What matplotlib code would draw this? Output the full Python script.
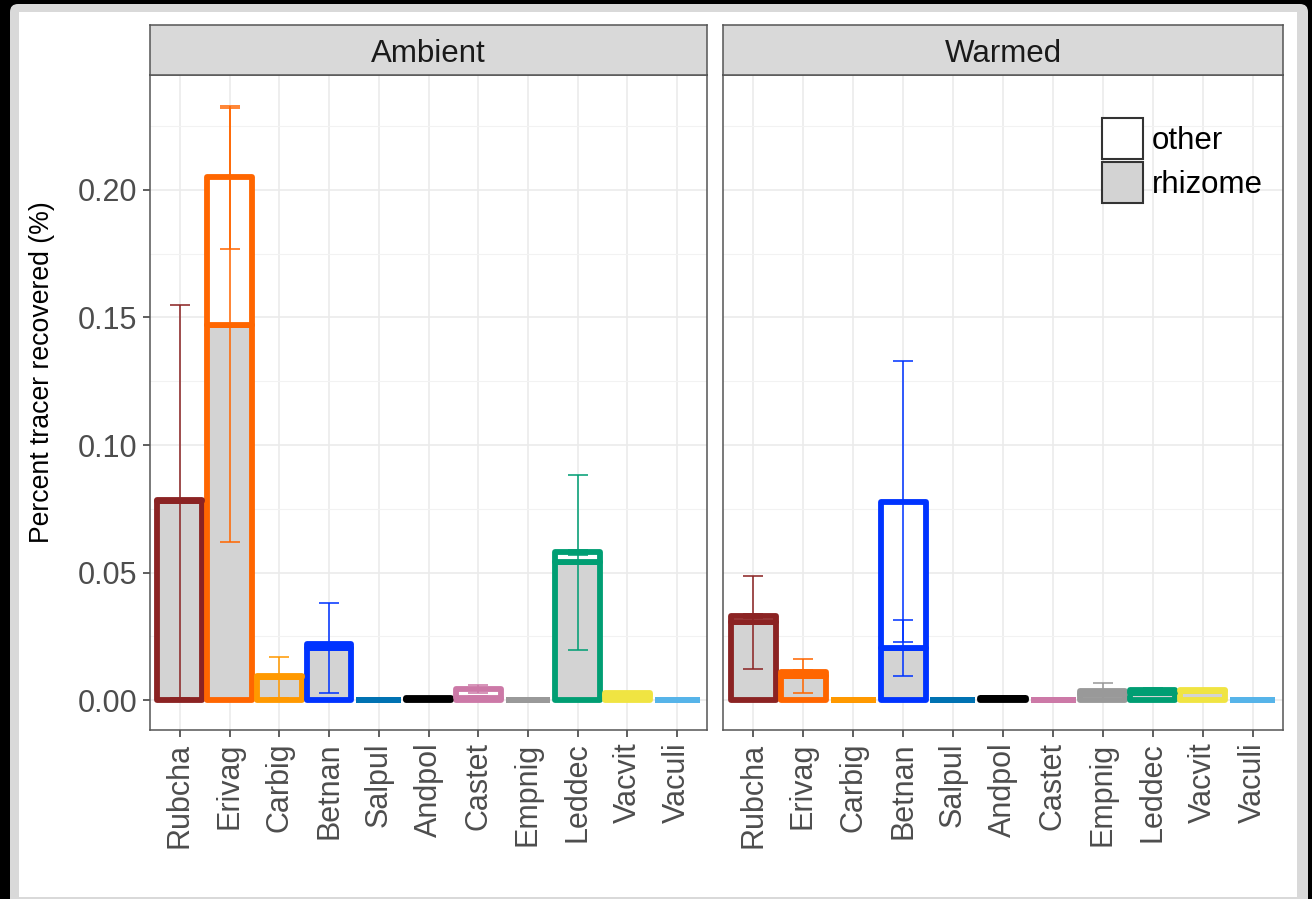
import numpy as np
import matplotlib
matplotlib.use("Agg")
import matplotlib.pyplot as plt
from matplotlib.patches import Patch, FancyBboxPatch, Rectangle
from matplotlib.transforms import IdentityTransform
from matplotlib.ticker import MultipleLocator

plt.rcParams['font.family'] = ['Liberation Sans', 'DejaVu Sans']

species = ['Rubcha', 'Erivag', 'Carbig', 'Betnan', 'Salpul', 'Andpol',
           'Castet', 'Empnig', 'Leddec', 'Vacvit', 'Vaculi']
sp_colors = ['#8B2323', '#FF6600', '#FF9900', '#0033FF', '#0072B2', '#000000',
             '#CC79A7', '#999999', '#009E73', '#F0E442', '#56B4E9']

treatments = ['Ambient', 'Warmed']

# mean percent recovered, rhizome (bottom) and other tissue (stacked on top)
rhizome_amb = [0.078, 0.147, 0.009, 0.0205, 0.0, 0.0005, 0.001, 0.0, 0.054, 0.002, 0.0]
other_amb = [0.0005, 0.058, 0.0005, 0.0015, 0.0, 0.0003, 0.0035, 0.0, 0.004, 0.0007, 0.0]
rhizome_se_amb = [0.077, 0.085, 0.008, 0.0175, 0.0, 0.0, 0.0005, 0.0, 0.0344, 0.0003, 0.0]
total_se_amb = [0.0, 0.028, 0.0, 0.0, 0.0, 0.0, 0.0015, 0.0, 0.001, 0.0003, 0.0]

rhizome_wrm = [0.0305, 0.0095, 0.0, 0.0204, 0.0, 0.0008, 0.0, 0.0025, 0.003, 0.0035, 0.0]
other_wrm = [0.0025, 0.0015, 0.0, 0.0574, 0.0, 0.0002, 0.0, 0.001, 0.001, 0.0005, 0.0]
rhizome_se_wrm = [0.0183, 0.0065, 0.0, 0.011, 0.0, 0.0, 0.0, 0.001, 0.001, 0.0005, 0.0]
total_se_wrm = [0.0008, 0.001, 0.0, 0.055, 0.0, 0.0, 0.0, 0.0032, 0.0008, 0.0003, 0.0]

panels = [
    (rhizome_amb, other_amb, rhizome_se_amb, total_se_amb),
    (rhizome_wrm, other_wrm, rhizome_se_wrm, total_se_wrm),
]

W, H = 1312, 899
fig = plt.figure(figsize=(W / 100, H / 100), dpi=100, facecolor='black')

# grey rounded frame + white page
fig.patches.append(FancyBboxPatch((18, -20), 1282, 907, boxstyle='round,pad=8',
                                  transform=IdentityTransform(), facecolor='#D9D9D9',
                                  edgecolor='none', zorder=-2))
fig.patches.append(Rectangle((19, 2), 1278, 885, transform=IdentityTransform(),
                             facecolor='white', edgecolor='none', zorder=-1))

grey_txt = '#4D4D4D'
fs_tick = 22
fs_big = 22.5
fs_lab = 19.2
lefts = [150, 723]
widths = [557, 560]
y_top, y_bot = 75, 730
ymin, ymax = -0.01167, 0.245
x = np.arange(len(species))

axes = []
for i, (rh, ot, rh_se, tot_se) in enumerate(panels):
    ax = fig.add_axes([lefts[i] / W, 1 - y_bot / H, widths[i] / W, (y_bot - y_top) / H])
    axes.append(ax)
    ax.set_facecolor('white')
    rh = np.array(rh)
    ot = np.array(ot)
    tot = rh + ot

    ax.bar(x, rh, width=0.9, color='#D3D3D3', edgecolor=sp_colors, linewidth=4.2,
           joinstyle='round', zorder=3)
    ax.bar(x, ot, bottom=rh, width=0.9, color='white', edgecolor=sp_colors,
           linewidth=4.2, joinstyle='round', zorder=3)

    for j in range(len(species)):
        ax.errorbar(x[j], rh[j], yerr=rh_se[j], fmt='none', ecolor=sp_colors[j],
                    elinewidth=1.4, capsize=7.5, capthick=1.4, alpha=0.8, zorder=4)
        ax.errorbar(x[j], tot[j], yerr=tot_se[j], fmt='none', ecolor=sp_colors[j],
                    elinewidth=1.4, capsize=7.5, capthick=1.4, alpha=0.8, zorder=4)

    ax.set_xlim(-0.6, len(species) - 0.4)
    ax.set_ylim(ymin, ymax)
    ax.yaxis.set_major_locator(MultipleLocator(0.05))
    ax.yaxis.set_minor_locator(MultipleLocator(0.025))
    ax.set_xticks(x)
    ax.set_xticklabels(species, rotation=90, fontsize=fs_tick, color=grey_txt)
    ax.grid(True, which='major', color='#EBEBEB', linewidth=1.2, zorder=0)
    ax.grid(True, which='minor', axis='y', color='#F2F2F2', linewidth=0.8, zorder=0)
    ax.set_axisbelow(True)
    ax.tick_params(axis='both', which='major', length=5, width=1.1, color='#333333',
                   pad=4, labelsize=fs_tick, labelcolor=grey_txt)
    ax.tick_params(axis='y', which='minor', length=0)
    for s in ax.spines.values():
        s.set_color('#555555')
        s.set_linewidth(1.1)
    if i == 0:
        ax.yaxis.set_major_formatter(plt.FuncFormatter(lambda v, p: f'{v:.2f}'))
    else:
        ax.tick_params(axis='y', which='both', left=False, labelleft=False)

    # facet strip
    sax = fig.add_axes([lefts[i] / W, 1 - y_top / H, widths[i] / W, 50 / H])
    sax.set_facecolor('#D9D9D9')
    sax.set_xticks([])
    sax.set_yticks([])
    for s in sax.spines.values():
        s.set_color('#555555')
        s.set_linewidth(1.1)
    sax.text(0.5, 0.42, treatments[i], ha='center', va='center', fontsize=fs_big,
             color='#1A1A1A', transform=sax.transAxes)

fig.text(42 / W, 1 - 372 / H, 'Percent tracer recovered (%)', rotation=90,
         ha='center', va='center', fontsize=fs_lab, color='black')

handles = [Patch(facecolor='white', edgecolor='#333333', linewidth=1.5, label='other'),
           Patch(facecolor='#D3D3D3', edgecolor='#333333', linewidth=1.5, label='rhizome')]
axes[1].legend(handles=handles, loc='upper left', bbox_to_anchor=(0.677, 0.934),
               frameon=False, fontsize=fs_big, handlelength=1.3, handleheight=1.65,
               labelspacing=0.08, handletextpad=0.3, borderpad=0, borderaxespad=0)

fig.savefig('out.png', dpi=100, facecolor=fig.get_facecolor())
